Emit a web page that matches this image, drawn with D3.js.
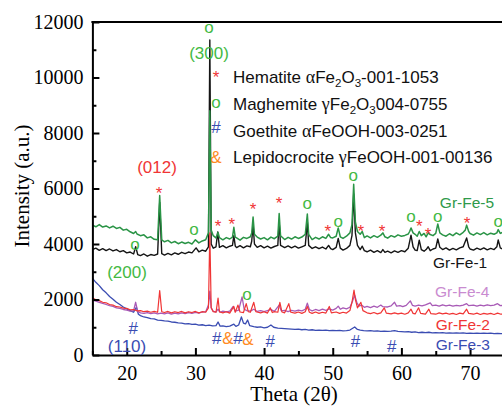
<!DOCTYPE html>
<html><head><meta charset="utf-8">
<script src="https://cdn.jsdelivr.net/npm/d3@7"></script>
<style>body{margin:0;background:#fff}svg{display:block}</style>
</head><body><svg id="c" width="502" height="411"></svg>
<script>
// ---------------- DATA ----------------
const xTicks = [20, 30, 40, 50, 60, 70];
const xMinorTicks = [15, 25, 35, 45, 55, 65, 75];
const yTicks = [0, 2000, 4000, 6000, 8000, 10000, 12000];
const yMinorTicks = [1000, 3000, 5000, 7000, 9000, 11000];

const grFe1 = [[15,3800],[15.5,3850],[16,3770],[16.5,3830],[17,3760],[17.5,3820],[18,3750],[18.5,3800],[19,3720],[19.5,3760],[20,3680],[20.5,3710],[21,3640],[21.3,3900],[21.6,3620],[22,3580],[22.5,3640],[23,3560],[23.5,3620],[24,3590],[24.5,3640],[24.8,5500],[25.1,3650],[25.5,3600],[26,3660],[26.5,3610],[27,3680],[27.5,3630],[28,3700],[28.5,3650],[29,3710],[29.5,3680],[30.1,3860],[30.5,3720],[31,3780],[31.5,3740],[31.9,3900],[32.1,11350],[32.3,4000],[32.6,3850],[33,3900],[33.25,4430],[33.5,3880],[34,3940],[34.5,3860],[35,3920],[35.4,3950],[35.6,4300],[35.8,3930],[36,3870],[36.5,3940],[37,3860],[37.5,3930],[38,3900],[38.2,4100],[38.4,4700],[38.6,4000],[39,3880],[39.5,3940],[40,3860],[40.5,3920],[41,3850],[41.5,3910],[42,3950],[42.2,4800],[42.4,3950],[43,3870],[43.5,3930],[44,3860],[44.5,3920],[45,3850],[45.5,3900],[46,3950],[46.3,4800],[46.5,3950],[47,3840],[47.5,3900],[48,3830],[48.5,3890],[49,3820],[49.4,3950],[49.7,3830],[50,3800],[50.5,3880],[50.8,4200],[51.1,3850],[51.5,3780],[52,3840],[52.5,3950],[52.8,4300],[53.05,5800],[53.3,4400],[53.6,3950],[54,3800],[54.3,3920],[54.6,3760],[55,3720],[55.5,3780],[56,3700],[56.5,3760],[57,3690],[57.3,3800],[57.6,3700],[58,3740],[58.5,3680],[59,3750],[59.5,3700],[60,3760],[60.5,3720],[61,3850],[61.4,4320],[61.7,3900],[62,3780],[62.3,3760],[62.6,4140],[62.9,3800],[63.3,3740],[63.6,3800],[63.9,3900],[64.2,3760],[64.6,3820],[65,3850],[65.3,4180],[65.6,3880],[66,3800],[66.5,3860],[67,3780],[67.5,3840],[68,3790],[68.5,3860],[69,3900],[69.5,4220],[69.8,3900],[70,3820],[70.5,3780],[71,3850],[71.5,3800],[72,3860],[72.5,3790],[73,3840],[73.5,3800],[73.9,3900],[74.1,4150],[74.4,3860],[74.7,3820],[75,3850]];

const grFe5 = [[15,4680],[15.5,4620],[16,4700],[16.5,4610],[17,4650],[17.5,4580],[18,4640],[18.5,4560],[19,4600],[19.5,4500],[20,4530],[20.5,4440],[21,4380],[21.3,4450],[21.5,4360],[22,4300],[22.5,4330],[23,4220],[23.5,4260],[24,4170],[24.5,4150],[24.8,5750],[25.1,4150],[25.5,4080],[26,4130],[26.5,4040],[27,4090],[27.5,4010],[28,4070],[28.5,4020],[29,4060],[29.5,4000],[30,4150],[30.5,4040],[31,4110],[31.5,4150],[31.9,4400],[32.1,8800],[32.3,4500],[32.6,4300],[33,4220],[33.3,4420],[33.5,4230],[34,4150],[34.5,4230],[35,4180],[35.4,4250],[35.6,4600],[35.8,4250],[36,4220],[36.5,4140],[37,4240],[37.5,4200],[38,4260],[38.2,4400],[38.4,4970],[38.6,4350],[39,4250],[39.5,4180],[40,4230],[40.5,4150],[41,4250],[41.5,4190],[42,4280],[42.2,5100],[42.4,4300],[43,4160],[43.5,4240],[44,4180],[44.5,4260],[45,4200],[45.5,4250],[46,4350],[46.3,5080],[46.5,4350],[47,4160],[47.5,4240],[48,4180],[48.5,4260],[49,4200],[49.4,4350],[49.7,4230],[50,4220],[50.5,4280],[50.8,4580],[51.1,4260],[51.5,4200],[52,4280],[52.5,4400],[52.8,4700],[53.05,6150],[53.3,4800],[53.6,4450],[54,4350],[54.3,4450],[54.6,4230],[55,4290],[55.5,4220],[56,4300],[56.5,4240],[57,4320],[57.3,4400],[57.6,4260],[58,4210],[58.5,4300],[59,4250],[59.5,4330],[60,4280],[60.5,4310],[61,4360],[61.2,4450],[61.4,4580],[61.7,4400],[62,4350],[62.3,4280],[62.6,4450],[62.9,4300],[63.3,4380],[63.6,4260],[63.9,4400],[64.2,4340],[64.6,4300],[65,4380],[65.3,4720],[65.6,4400],[66,4330],[66.5,4280],[67,4370],[67.5,4300],[68,4400],[68.5,4330],[69,4420],[69.3,4500],[69.5,4680],[69.8,4450],[70,4380],[70.5,4320],[71,4400],[71.5,4340],[72,4410],[72.5,4330],[73,4390],[73.5,4350],[73.9,4400],[74.1,4520],[74.4,4380],[74.7,4420],[75,4380]];

const grFe3 = [[15,2770],[15.5,2620],[16,2500],[16.5,2350],[17,2240],[17.5,2110],[18,2010],[18.5,1900],[19,1820],[19.5,1730],[20,1660],[20.5,1600],[21,1540],[21.4,1720],[21.7,1470],[22,1420],[22.5,1370],[23,1350],[23.5,1310],[24,1300],[24.5,1260],[25,1250],[25.5,1230],[26,1220],[26.5,1190],[27,1180],[27.5,1160],[28,1150],[28.5,1120],[29,1130],[29.5,1100],[30,1110],[30.5,1080],[31,1090],[31.5,1060],[32,1080],[32.5,1050],[33,1060],[33.3,1190],[33.6,1040],[34,1050],[34.5,1020],[35,1040],[35.6,1110],[35.9,1030],[36.3,1080],[36.7,1370],[37,1150],[37.3,1120],[37.6,1260],[37.9,1060],[38.5,1020],[39,1000],[39.5,1010],[40,980],[40.5,1000],[41,1080],[41.4,1000],[42,970],[42.5,960],[43,950],[43.5,940],[44,930],[44.5,920],[45,930],[45.5,910],[46,920],[46.5,900],[47,910],[47.5,890],[48,900],[48.5,890],[49,900],[49.5,880],[50,890],[50.5,880],[51,890],[51.5,870],[52,880],[52.5,900],[53.2,1010],[53.6,920],[54,900],[54.5,880],[55,870],[55.5,880],[56,860],[56.5,870],[57,850],[57.5,860],[58,850],[58.5,860],[59,880],[59.5,850],[60,840],[60.5,830],[61,840],[61.5,820],[62,830],[62.5,810],[63,820],[63.5,810],[64,820],[64.5,800],[65,810],[65.5,800],[66,810],[66.5,790],[67,800],[67.5,790],[68,800],[68.5,790],[69,800],[69.5,780],[70,790],[70.5,780],[71,790],[71.5,780],[72,790],[72.5,780],[73,790],[73.5,770],[74,780],[74.5,770],[75,780]];

const grFe4 = [[15,1980],[15.5,1940],[16,1900],[16.5,1860],[17,1820],[17.5,1780],[18,1750],[18.5,1700],[19,1680],[19.5,1640],[20,1620],[20.5,1580],[21,1600],[21.3,1900],[21.6,1560],[22,1520],[22.5,1500],[23,1530],[23.5,1490],[24,1520],[24.5,1480],[25,1510],[25.5,1480],[26,1520],[26.5,1470],[27,1510],[27.5,1480],[28,1520],[28.5,1490],[29,1530],[29.5,1500],[30,1540],[30.5,1510],[31,1550],[31.5,1560],[31.9,1800],[32.1,2300],[32.3,1700],[32.6,1570],[33,1550],[33.3,1650],[33.6,1540],[34,1580],[34.5,1550],[35,1580],[35.5,1750],[35.8,1580],[36.3,1620],[36.8,2090],[37.1,1650],[37.5,1600],[38,1580],[38.5,1650],[39,1570],[39.5,1600],[40,1560],[40.5,1600],[41,1640],[41.5,1570],[42.2,1800],[42.5,1590],[43,1610],[43.5,1560],[44,1610],[44.5,1580],[45,1620],[45.5,1590],[46,1650],[46.3,1870],[46.6,1640],[47,1590],[47.5,1640],[48,1600],[48.5,1650],[49,1610],[49.5,1660],[50,1620],[50.5,1680],[50.8,1760],[51.1,1650],[51.5,1700],[52,1660],[52.5,1720],[52.9,1950],[53.2,2160],[53.5,1900],[53.8,1760],[54.2,1800],[54.6,1720],[55,1750],[55.5,1710],[56,1760],[56.5,1720],[57,1800],[57.3,1740],[58,1730],[58.5,1770],[59,1900],[59.3,1760],[59.8,1780],[60.2,1740],[60.7,1790],[61.3,1950],[61.6,1790],[62,1760],[62.5,1800],[63,1770],[63.5,1810],[64.2,1880],[64.5,1780],[65,1800],[65.5,1760],[66,1810],[66.5,1770],[67,1800],[67.5,1760],[68,1790],[68.5,1770],[69,1800],[69.5,1850],[69.8,1780],[70.5,1800],[71,1760],[71.5,1800],[72,1770],[72.5,1810],[73,1780],[73.5,1800],[74,1850],[74.4,1780],[75,1790]];

const grFe2 = [[15,2060],[15.5,1990],[16,1960],[16.5,1900],[17,1880],[17.5,1820],[18,1800],[18.5,1740],[19,1730],[19.5,1690],[20,1680],[20.5,1630],[21,1640],[21.5,1590],[22,1600],[22.5,1560],[23,1580],[23.5,1540],[24,1570],[24.5,1540],[24.8,2320],[25.1,1560],[25.5,1530],[26,1570],[26.5,1520],[27,1560],[27.5,1530],[28,1570],[28.5,1520],[29,1560],[29.5,1530],[30,1570],[30.5,1520],[31,1560],[31.5,1540],[31.9,1700],[32.1,4400],[32.3,1700],[32.6,1560],[33,1540],[33.3,2050],[33.5,1560],[34,1520],[34.5,1560],[35,1510],[35.6,1750],[35.8,1540],[36.2,1800],[36.5,1550],[37,1530],[37.4,1850],[37.7,1560],[38,1540],[38.5,1900],[38.8,1560],[39.5,1520],[40,1560],[40.5,1510],[40.9,1700],[41.2,1530],[41.5,1560],[42,1540],[42.3,1900],[42.6,1550],[43,1520],[43.6,1850],[43.9,1540],[44.5,1510],[45,1550],[45.5,1500],[46,1560],[46.3,1750],[46.6,1540],[47,1500],[47.5,1550],[48,1500],[48.5,1540],[49,1510],[49.5,1750],[49.8,1520],[50.5,1550],[51,1500],[51.5,1540],[52,1510],[52.5,1600],[52.8,1900],[53.1,2340],[53.3,2000],[53.6,1700],[54.1,1900],[54.4,1600],[55,1520],[55.5,1490],[56,1530],[56.5,1480],[57,1520],[57.5,1700],[57.8,1510],[58.5,1480],[59,1520],[59.5,1480],[60,1510],[60.5,1470],[61,1520],[61.4,1650],[61.7,1500],[62,1480],[62.5,1700],[62.8,1500],[63.5,1470],[64,1650],[64.3,1490],[65,1470],[65.5,1520],[66,1480],[66.5,1510],[67,1470],[67.5,1500],[68,1460],[68.5,1510],[69,1480],[69.5,1650],[69.8,1500],[70.5,1470],[71,1510],[71.5,1460],[72,1500],[72.5,1470],[73,1500],[73.5,1460],[74,1510],[74.5,1470],[75,1490]];

// phase marker positions (theta, intensity at glyph centre)
const hematiteMarks = [[24.7,5950],[33.3,4790],[35.3,4830],[38.4,5370],[42.2,5620],[49.3,4610],[54.1,4610],[57.2,4580],[62.6,4790],[63.9,4500],[69.55,4900]];
const maghemiteMarks = [[31.98,11750],[21.2,3960],[29.8,4470],[46.3,5410],[50.8,4790],[53.0,6450],[61.4,4940],[65.3,4970],[74.1,4760],[37.5,2130]];
const goethiteMarks = [[20.95,975],[33.1,613],[36.2,613],[40.9,505],[53.3,505],[58.6,324]];
const lepidocrociteMarks = [[34.75,613],[37.66,577]];

const hklLabels = ["(300)", "(012)", "(200)", "(110)"];
const hklTheta = [31.98, 24.41, 20.04, 20.04];
const hklValue = [10670, 6560, 2775, 100];

const seriesNames = ["Gr-Fe-1", "Gr-Fe-5", "Gr-Fe-3", "Gr-Fe-4", "Gr-Fe-2"];
const seriesData = [grFe1, grFe5, grFe3, grFe4, grFe2];

// ---------------- STYLE / LAYOUT ----------------
const C = {
  black: "#151515", green: "#2a9446", greenLbl: "#2f9a4a", mark: "#43b943",
  red: "#f03535", violet: "#a85ab6", violetLbl: "#c98bd0", blue: "#3a4cb2", orange: "#ff8a22"
};
const lineColor = { "Gr-Fe-1": C.black, "Gr-Fe-5": C.green, "Gr-Fe-3": C.blue, "Gr-Fe-4": C.violet, "Gr-Fe-2": C.red };
const lineWidth = { "Gr-Fe-1": 1.4, "Gr-Fe-5": 1.5, "Gr-Fe-3": 1.3, "Gr-Fe-4": 1.3, "Gr-Fe-2": 1.2 };
const labelColor = { "Gr-Fe-1": C.black, "Gr-Fe-5": C.greenLbl, "Gr-Fe-3": C.blue, "Gr-Fe-4": C.violetLbl, "Gr-Fe-2": C.red };
const labelPos = { "Gr-Fe-5": [65.6, 5300], "Gr-Fe-1": [64.6, 3135], "Gr-Fe-4": [64.9, 2090], "Gr-Fe-2": [65.0, 900], "Gr-Fe-3": [65.0, 180] };
const hklColor = [C.mark, C.red, C.mark, C.blue];

const svg = d3.select("#c");
const x = d3.scaleLinear().domain([15, 75]).range([92.4, 504.4]);
const y = d3.scaleLinear().domain([0, 12000]).range([355, 22]);
const SERIF = "'Liberation Serif','Times New Roman',serif";
const SANS = "'Liberation Sans',Arial,sans-serif";

// lines
const line = d3.line().x(d => x(d[0])).y(d => y(d[1]));
seriesNames.forEach((n, i) => {
  svg.append("path").datum(seriesData[i]).attr("d", line)
    .attr("fill", "none").attr("stroke", lineColor[n]).attr("stroke-width", lineWidth[n])
    .attr("stroke-linejoin", "round");
});

// axes
function styleAxis(g) {
  g.selectAll("path.domain").attr("stroke", "#000").attr("stroke-width", 2);
  g.selectAll(".tick line").attr("stroke", "#000").attr("stroke-width", 2);
  g.selectAll("text").attr("font-family", SERIF).attr("font-size", 20).attr("fill", "#000");
}
const gy = svg.append("g").attr("transform", `translate(${x(15)},0)`)
  .call(d3.axisLeft(y).tickValues(yTicks).tickSize(-7).tickSizeOuter(0).tickPadding(9).tickFormat(d3.format("d")));
styleAxis(gy);
const gym = svg.append("g").attr("transform", `translate(${x(15)},0)`)
  .call(d3.axisLeft(y).tickValues(yMinorTicks).tickSize(-4).tickSizeOuter(0).tickFormat(""));
styleAxis(gym); gym.select("path.domain").remove();

const gx = svg.append("g").attr("transform", `translate(0,${y(0)})`)
  .call(d3.axisBottom(x).tickValues(xTicks).tickSize(-7).tickSizeOuter(0).tickPadding(11));
styleAxis(gx);
const gxm = svg.append("g").attr("transform", `translate(0,${y(0)})`)
  .call(d3.axisBottom(x).tickValues(xMinorTicks).tickSize(-4).tickSizeOuter(0).tickFormat(""));
styleAxis(gxm); gxm.select("path.domain").remove();

svg.append("line").attr("x1", x(15) - 1).attr("x2", x(75)).attr("y1", y(12000)).attr("y2", y(12000))
  .attr("stroke", "#000").attr("stroke-width", 2);

// axis titles
svg.append("text").attr("transform", "translate(29,186) rotate(-90)").attr("text-anchor", "middle")
  .attr("font-family", SERIF).attr("font-size", 21).text("Intensity (a.u.)");
svg.append("text").attr("x", 294).attr("y", 401).attr("text-anchor", "middle")
  .attr("font-family", SERIF).attr("font-size", 21).text("Theta (2θ)");

// markers
const glyphOffset = { "*": 9.5, "o": 4.5, "#": 6, "&": 6 };
function drawMarks(arr, ch, color) {
  svg.append("g").selectAll("text").data(arr).join("text")
    .attr("x", d => x(d[0])).attr("y", d => y(d[1]) + glyphOffset[ch])
    .attr("text-anchor", "middle").attr("font-family", SANS).attr("font-size", 17)
    .attr("fill", color).text(ch);
}
drawMarks(hematiteMarks, "*", C.red);
drawMarks(maghemiteMarks, "o", C.mark);
drawMarks(goethiteMarks, "#", C.blue);
drawMarks(lepidocrociteMarks, "&", C.orange);

// hkl labels
hklLabels.forEach((t, i) => {
  svg.append("text").attr("x", x(hklTheta[i])).attr("y", y(hklValue[i])).attr("text-anchor", "middle")
    .attr("font-family", SANS).attr("font-size", 17).attr("fill", hklColor[i]).text(t);
});

// series labels
seriesNames.forEach(n => {
  svg.append("text").attr("x", x(labelPos[n][0])).attr("y", y(labelPos[n][1]))
    .attr("font-family", SANS).attr("font-size", 15.5).attr("fill", labelColor[n]).text(n);
});

// legend
const legend = [
  { sym: "*", color: C.red, parts: [["Hematite ", 0], ["α", "g"], ["Fe", 0], ["2", 1], ["O", 0], ["3", 1], ["-001-1053", 0]] },
  { sym: "o", color: C.mark, parts: [["Maghemite ", 0], ["γ", "g"], ["Fe", 0], ["2", 1], ["O", 0], ["3", 1], ["004-0755", 0]] },
  { sym: "#", color: C.blue, parts: [["Goethite ", 0], ["α", "g"], ["FeOOH-003-0251", 0]] },
  { sym: "&", color: C.orange, parts: [["Lepidocrocite ", 0], ["γ", "g"], ["FeOOH-001-00136", 0]] }
];
const legBase = [83, 110, 136.5, 162.5];
const legSymOff = { "*": 0, "o": -2, "#": -4, "&": 0 };
legend.forEach((L, i) => {
  svg.append("text").attr("x", 216).attr("y", legBase[i] + legSymOff[L.sym]).attr("text-anchor", "middle")
    .attr("font-family", SANS).attr("font-size", 17).attr("fill", L.color).text(L.sym);
  const t = svg.append("text").attr("x", 233).attr("y", legBase[i])
    .attr("font-family", SANS).attr("font-size", 17).attr("fill", "#111");
  let sub = false;
  L.parts.forEach(p => {
    const ts = t.append("tspan").text(p[0]);
    if (p[1] === 1) { ts.attr("font-size", 11.5).attr("dy", sub ? 0 : 4); sub = true; }
    else { if (sub) { ts.attr("dy", -4); sub = false; } }
    if (p[1] === "g") ts.attr("font-family", SERIF).attr("font-size", 18);
  });
});
</script></body></html>
